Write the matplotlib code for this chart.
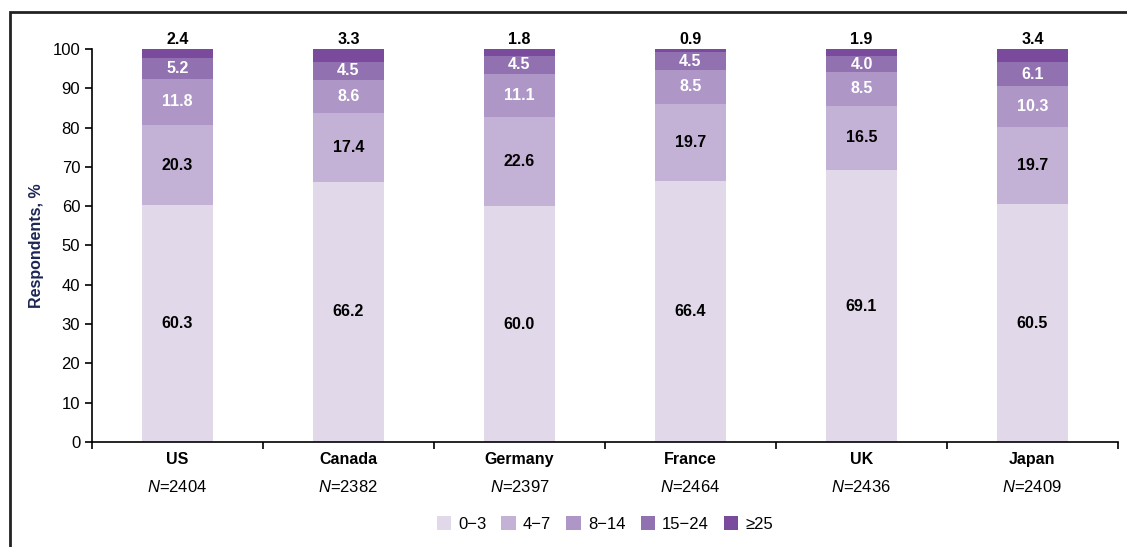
import matplotlib.pyplot as plt
from matplotlib.patches import Rectangle
import numpy as np

plt.rcParams["font.family"] = ["Liberation Sans", "DejaVu Sans"]
plt.rcParams["mathtext.fontset"] = "custom"
plt.rcParams["mathtext.it"] = "Liberation Sans:italic"
plt.rcParams["mathtext.rm"] = "Liberation Sans"

countries = ["US", "Canada", "Germany", "France", "UK", "Japan"]
n_values = [2404, 2382, 2397, 2464, 2436, 2409]
categories = ["0\u22123", "4\u22127", "8\u221214", "15\u221224", "\u226525"]
s_0_3 = [60.3, 66.2, 60.0, 66.4, 69.1, 60.5]
s_4_7 = [20.3, 17.4, 22.6, 19.7, 16.5, 19.7]
s_8_14 = [11.8, 8.6, 11.1, 8.5, 8.5, 10.3]
s_15_24 = [5.2, 4.5, 4.5, 4.5, 4.0, 6.1]
s_25 = [2.4, 3.3, 1.8, 0.9, 1.9, 3.4]

series = [s_0_3, s_4_7, s_8_14, s_15_24, s_25]
colors = ["#e1d9ea", "#c3b2d6", "#ae97c7", "#9271b0", "#7a4a9d"]
text_colors = ["black", "black", "white", "white", None]

fig = plt.figure(figsize=(11.27, 5.47), dpi=100)
ax = fig.add_axes([0.0816, 0.192, 0.9104, 0.7186])

x = np.arange(len(countries))
bottom = np.zeros(len(countries))
for vals, col, tc, lab in zip(series, colors, text_colors, categories):
    vals = np.array(vals)
    ax.bar(x, vals, width=0.415, bottom=bottom, color=col, label=lab, linewidth=0)
    for xi, b, v in zip(x, bottom, vals):
        if tc is None:
            ax.annotate("{:.1f}".format(v), (xi, b + v), xytext=(0, 1.5),
                        textcoords="offset points", ha="center", va="bottom",
                        fontsize=11.5, fontweight="bold", color="black")
        else:
            ax.text(xi, b + v / 2, "{:.1f}".format(v), ha="center", va="center",
                    fontsize=11.5, fontweight="bold", color=tc)
    bottom = bottom + vals

ax.set_xlim(-0.5, 5.5)
ax.set_ylim(0, 100)
ax.set_yticks(range(0, 101, 10))
ax.tick_params(axis="y", labelsize=12, length=5, width=1.2, direction="out")
ax.set_xticks(x)
ax.set_xticklabels(countries, fontsize=11.5, fontweight="bold")
ax.tick_params(axis="x", length=0, pad=7)
ax.set_xticks(np.arange(-0.5, 6, 1), minor=True)
ax.tick_params(axis="x", which="minor", length=5, width=1.2, direction="out")
for s in ["top", "right"]:
    ax.spines[s].set_visible(False)
for s in ["left", "bottom"]:
    ax.spines[s].set_linewidth(1.2)

ax.set_ylabel("Respondents, %", fontsize=11.5, fontweight="bold", color="#1c2554", labelpad=6)

for xi, n in zip(x, n_values):
    ax.text(xi, -11.5, r"$N$=" + str(n), ha="center", va="center", fontsize=12,
            transform=ax.transData, clip_on=False)

ax.legend(loc="center", bbox_to_anchor=(605 / 1127, (547 - 524) / 547),
          bbox_transform=fig.transFigure, ncol=5, frameon=False, fontsize=12,
          handlelength=0.85, handleheight=0.85, handletextpad=0.45, columnspacing=0.9)

fig.patches.append(Rectangle((10 / 1127, -0.1), 1.2, 0.1 + (547 - 12) / 547,
                             transform=fig.transFigure, fill=False,
                             edgecolor="#222222", linewidth=2))

fig.savefig("out.png", dpi=100)
